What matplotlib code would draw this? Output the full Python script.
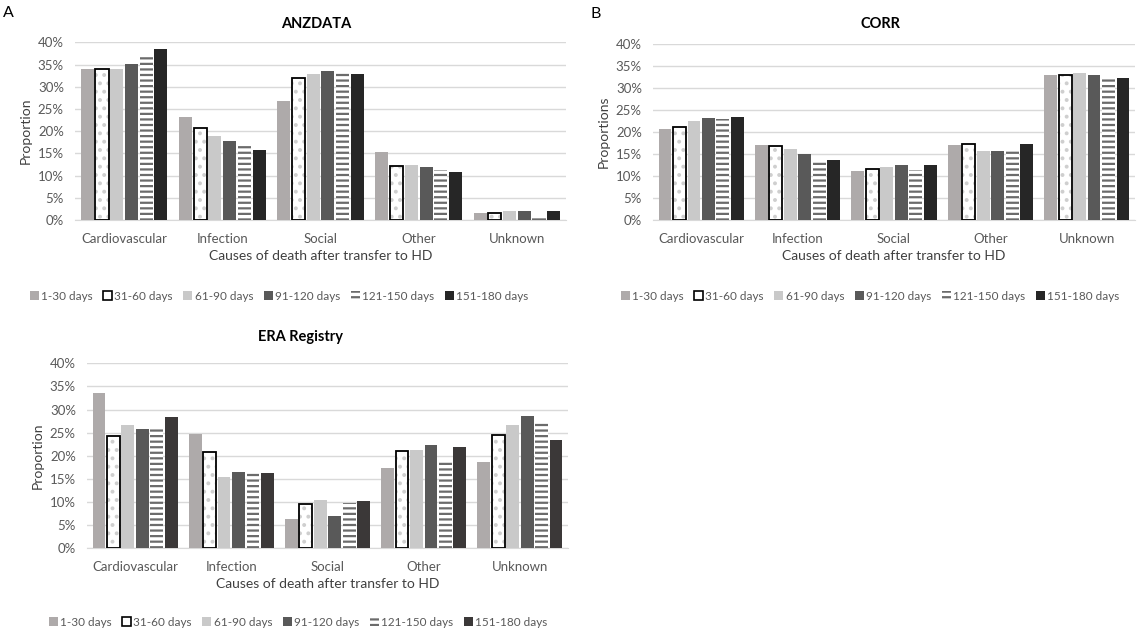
import matplotlib
matplotlib.use("Agg")
import matplotlib.pyplot as plt
import numpy as np
from matplotlib.patches import Patch

plt.rcParams['font.family'] = ['Lato', 'DejaVu Sans']
plt.rcParams['hatch.linewidth'] = 1.6

categories = ["Cardiovascular", "Infection", "Social", "Other", "Unknown"]
series = ["1-30 days", "31-60 days", "61-90 days", "91-120 days", "121-150 days", "151-180 days"]

# values in percent, rows = series, cols = categories
anz_1_30 = [33.9, 23.1, 26.8, 15.2, 1.5]
anz_31_60 = [34.1, 20.6, 31.9, 12.2, 1.5]
anz_61_90 = [33.9, 18.9, 32.8, 12.3, 2.0]
anz_91_120 = [35.1, 17.7, 33.6, 12.0, 2.0]
anz_121_150 = [37.3, 16.8, 33.0, 11.3, 1.0]
anz_151_180 = [38.4, 15.8, 32.8, 10.9, 2.1]

corr_1_30 = [20.7, 17.1, 11.2, 17.0, 32.9]
corr_31_60 = [21.1, 16.9, 11.5, 17.2, 32.9]
corr_61_90 = [22.5, 16.2, 12.1, 15.7, 33.4]
corr_91_120 = [23.2, 15.1, 12.5, 15.6, 32.9]
corr_121_150 = [22.9, 13.7, 11.4, 16.1, 32.0]
corr_151_180 = [23.4, 13.7, 12.5, 17.3, 32.3]

era_1_30 = [33.5, 24.8, 6.3, 17.4, 18.7]
era_31_60 = [24.3, 20.8, 9.5, 21.1, 24.6]
era_61_90 = [26.7, 15.5, 10.5, 21.3, 26.7]
era_91_120 = [25.9, 16.6, 7.0, 22.3, 28.6]
era_121_150 = [25.9, 16.3, 9.8, 18.8, 27.4]
era_151_180 = [28.3, 16.3, 10.3, 21.8, 23.4]

yticks = [0, 5, 10, 15, 20, 25, 30, 35, 40]
ytick_labels = ["0%", "5%", "10%", "15%", "20%", "25%", "30%", "35%", "40%"]

TXT = '#595959'
GRID = '#d9d9d9'

fig = plt.figure(figsize=(11.37, 6.35), dpi=100)


def draw(ax, data, dark, ylabel):
    x = np.arange(len(categories))
    pitch = 0.15
    w = 0.133
    styles = [
        dict(color='#aeaaaa'),
        None,
        dict(color='#c9c9c9'),
        dict(color='#595959'),
        None,
        dict(color=dark),
    ]
    for i, vals in enumerate(data):
        xs = x + (i - 2.5) * pitch
        if i == 1:
            ax.bar(xs, vals, w, facecolor='white', edgecolor='#cfcfcf', hatch='..', linewidth=0, zorder=3)
            ax.bar(xs, vals, w, facecolor='none', edgecolor='black', linewidth=1.3, zorder=4)
        elif i == 4:
            ax.bar(xs, vals, w, facecolor='white', edgecolor='#6b6b6b', hatch='---', linewidth=0, zorder=3)
        else:
            ax.bar(xs, vals, w, linewidth=0, zorder=3, **styles[i])
    ax.set_xlim(-0.5, len(categories) - 0.5)
    ax.set_ylim(0, 40)
    ax.set_yticks(yticks)
    ax.set_yticklabels(ytick_labels)
    ax.set_xticks(x)
    ax.set_xticklabels(categories)
    ax.tick_params(axis='both', length=0, labelsize=9.5, colors=TXT, pad=8)
    ax.tick_params(axis='x', pad=9)
    ax.grid(axis='y', color=GRID, linewidth=1, zorder=0)
    ax.set_axisbelow(True)
    for s in ['top', 'right', 'left']:
        ax.spines[s].set_visible(False)
    ax.spines['bottom'].set_color(GRID)
    ax.set_xlabel("Causes of death after transfer to HD", fontsize=10, color='#404040', labelpad=4)
    ax.set_ylabel(ylabel, fontsize=10, color='#404040', labelpad=4)


def legend(xc, yc, dark):
    handles = [
        Patch(facecolor='#aeaaaa', edgecolor='none'),
        Patch(facecolor='white', edgecolor='black', linewidth=1.2),
        Patch(facecolor='#c9c9c9', edgecolor='none'),
        Patch(facecolor='#595959', edgecolor='none'),
        Patch(facecolor='white', edgecolor='#6b6b6b', hatch='---', linewidth=0),
        Patch(facecolor=dark, edgecolor='none'),
    ]
    leg = fig.legend(handles, series, loc='center', bbox_to_anchor=(xc, yc), ncol=6,
                     frameon=False, fontsize=8.5, handlelength=0.75, handleheight=0.75,
                     handletextpad=0.2, columnspacing=0.9, labelcolor=TXT)
    return leg


H = 635.0
W = 1137.0

axA = fig.add_axes([75 / W, 1 - 220 / H, 491 / W, (220 - 42.3) / H])
draw(axA, [anz_1_30, anz_31_60, anz_61_90, anz_91_120, anz_121_150, anz_151_180], '#262626', "Proportion")
axB = fig.add_axes([653 / W, 1 - 220 / H, 482 / W, (220 - 44.3) / H])
draw(axB, [corr_1_30, corr_31_60, corr_61_90, corr_91_120, corr_121_150, corr_151_180], '#262626', "Proportions")
axC = fig.add_axes([87 / W, 1 - 548.3 / H, 481 / W, (548.3 - 363.3) / H])
draw(axC, [era_1_30, era_31_60, era_61_90, era_91_120, era_121_150, era_151_180], '#3b3838', "Proportion")

fig.text(316 / W, 1 - 24 / H, "ANZDATA", ha='center', va='center', fontsize=10.5, fontweight='bold')
fig.text(880 / W, 1 - 24 / H, "CORR", ha='center', va='center', fontsize=10.5, fontweight='bold')
fig.text(300 / W, 1 - 337 / H, "ERA Registry", ha='center', va='center', fontsize=10.5, fontweight='bold')
fig.text(8 / W, 1 - 13 / H, "A", ha='center', va='center', fontsize=11.5)
fig.text(596 / W, 1 - 14 / H, "B", ha='center', va='center', fontsize=11.5)

legend(279 / W, 1 - 296 / H, '#262626')
legend(870 / W, 1 - 296 / H, '#262626')
legend(298 / W, 1 - 622 / H, '#3b3838')

fig.savefig("out.png", dpi=100)
